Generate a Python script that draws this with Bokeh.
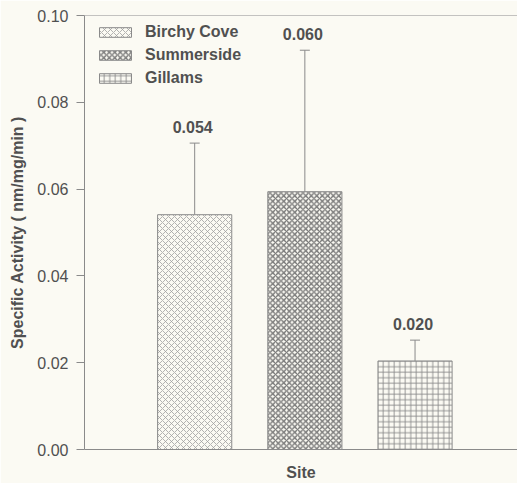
from bokeh.plotting import figure
from bokeh.models import (ColumnDataSource, Whisker, TeeHead, Span, Legend, LegendItem,
                          FixedTicker, CustomJSTickFormatter)
from bokeh.embed import file_html
from bokeh.resources import INLINE

sites = ["Birchy Cove", "Summerside", "Gillams"]
means = [0.0541, 0.0594, 0.0204]
errors = [0.0165, 0.0326, 0.0048]
value_labels = ["0.054", "0.060", "0.020"]
y_ticks = [0.00, 0.02, 0.04, 0.06, 0.08, 0.10]

hatch_patterns = ["diagonal_cross", "diagonal_cross", "cross"]
hatch_colors = ["#a0a0a0", "#787878", "#8a8a8a"]
hatch_scales = [6, 5.5, 5.5]
hatch_weights = [0.8, 1.4, 0.9]

BG = "#fbfaf3"
LINE = "#8a8a8a"
TXT = "#505050"
FONT = "Liberation Sans"

xs = [i + 1 for i in range(len(sites))]
uppers = [m + e for m, e in zip(means, errors)]

p = figure(width=517, height=483, x_range=(0, 3.93), y_range=(0, 0.10),
           output_backend="svg", toolbar_location=None,
           background_fill_color=BG, border_fill_color=BG,
           min_border_left=84, min_border_right=0, min_border_top=15, min_border_bottom=32)
p.outline_line_color = None
p.grid.visible = False

# y axis
p.yaxis.ticker = FixedTicker(ticks=y_ticks)
p.yaxis.formatter = CustomJSTickFormatter(code="return tick.toFixed(2);")
p.yaxis.axis_label = "Specific Activity ( nm/mg/min )"
p.yaxis.axis_label_text_font = FONT
p.yaxis.axis_label_text_font_style = "bold"
p.yaxis.axis_label_text_font_size = "16px"
p.yaxis.axis_label_text_color = TXT
p.yaxis.axis_label_standoff = 8
p.yaxis.major_label_text_font = FONT
p.yaxis.major_label_text_font_size = "16px"
p.yaxis.major_label_text_color = TXT
p.yaxis.major_label_standoff = 8
p.yaxis.major_tick_out = 8
p.yaxis.major_tick_in = 0
p.yaxis.minor_tick_line_color = None
p.yaxis.axis_line_color = LINE
p.yaxis.major_tick_line_color = LINE

# x axis
p.xaxis.ticker = FixedTicker(ticks=[])
p.xaxis.axis_label = "Site"
p.xaxis.axis_label_text_font = FONT
p.xaxis.axis_label_text_font_style = "bold"
p.xaxis.axis_label_text_font_size = "16px"
p.xaxis.axis_label_text_color = TXT
p.xaxis.axis_label_standoff = 14
p.xaxis.axis_line_color = LINE
p.xaxis.minor_tick_line_color = None
p.xaxis.major_tick_line_color = None

# top frame line
p.add_layout(Span(location=0.10, dimension="width", line_color=LINE, line_width=1))

items = []
for i, name in enumerate(sites):
    src = ColumnDataSource(dict(x=[xs[i]], top=[means[i]]))
    r = p.vbar(x="x", top="top", bottom=0, width=0.673, source=src,
               fill_color=BG, line_color=LINE, line_width=1,
               hatch_pattern=hatch_patterns[i], hatch_color=hatch_colors[i],
               hatch_scale=hatch_scales[i], hatch_weight=hatch_weights[i])
    items.append(LegendItem(label=name, renderers=[r]))

err_src = ColumnDataSource(dict(x=xs, lower=means, upper=uppers, lab=value_labels))
p.add_layout(Whisker(source=err_src, base="x", lower="lower", upper="upper",
                     line_color=LINE, line_width=1, lower_head=None,
                     upper_head=TeeHead(size=10, line_color=LINE, line_width=1)))

p.text(x="x", y="upper", text="lab", source=err_src, text_align="center",
       text_baseline="bottom", y_offset=-10, x_offset=-2,
       text_font_size="16px", text_font_style="bold", text_color=TXT,
       text_font={"value": FONT})

legend = Legend(items=items, location=(11, 362), margin=0, padding=0,
                glyph_width=40, glyph_height=12, label_height=16, spacing=5,
                label_standoff=10, border_line_color=None, background_fill_alpha=0,
                label_text_font=FONT, label_text_font_style="bold",
                label_text_font_size="16px", label_text_color=TXT)
p.add_layout(legend)

open("out.html", "w").write(file_html(p, INLINE))
